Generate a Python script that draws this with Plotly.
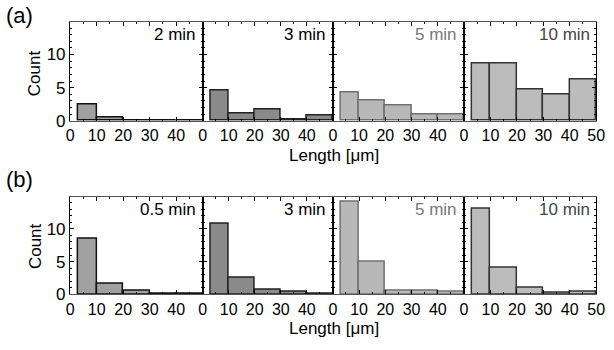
import plotly.graph_objects as go

# ---- data ----
bin_left = [3, 10, 20, 30, 40]
bin_right = [10, 20, 30, 40, 50]

row_a_times = ["2 min", "3 min", "5 min", "10 min"]
row_a_counts = [
    [2.45, 0.44, 0.10, 0.05, 0.05],
    [4.5, 1.08, 1.67, 0.24, 0.74],
    [4.2, 3.05, 2.3, 0.98, 0.98],
    [8.62, 8.62, 4.67, 3.93, 6.2],
]
row_b_times = ["0.5 min", "3 min", "5 min", "10 min"]
row_b_counts = [
    [8.52, 1.57, 0.59, 0.15, 0.05],
    [10.7, 2.6, 0.74, 0.39, 0.1],
    [14.1, 5.03, 0.55, 0.53, 0.44],
    [13.1, 4.04, 1.03, 0.24, 0.44],
]
x_ticks = [0, 10, 20, 30, 40]
x_ticks_last = [0, 10, 20, 30, 40, 50]
y_ticks = [0, 5, 10]

# ---- styles ----
fills = ["#a0a0a0", "#8a8a8a", "#b8b8b8", "#bcbcbc"]
edges = ["#111111", "#222222", "#707070", "#333333"]
label_colors = ["#000000", "#000000", "#777777", "#444444"]

xdom = [(0.110, 0.3306), (0.3306, 0.5472), (0.5472, 0.7655), (0.7655, 0.9853)]
ydom = [(0.645, 0.934), (0.134, 0.421)]
FONT = "Liberation Sans, Arial, sans-serif"

centers = [(l + r) / 2 for l, r in zip(bin_left, bin_right)]
widths = [r - l for l, r in zip(bin_left, bin_right)]

fig = go.Figure()
layout = {}
annotations = []
k = 0
for row, (times, counts) in enumerate([(row_a_times, row_a_counts), (row_b_times, row_b_counts)]):
    for col in range(4):
        k += 1
        xa = "x" if k == 1 else f"x{k}"
        ya = "y" if k == 1 else f"y{k}"
        fig.add_trace(go.Bar(
            x=centers, y=counts[col], width=widths,
            marker=dict(color=fills[col], line=dict(color=edges[col], width=1.5)),
            xaxis=xa, yaxis=ya, showlegend=False,
        ))
        ticks = x_ticks_last if col == 3 else x_ticks
        layout[f"xaxis{k}"] = dict(
            domain=list(xdom[col]), anchor=ya, range=[0, 50],
            tickvals=ticks, ticktext=[str(t) for t in ticks],
            ticks="inside", ticklen=4, tickcolor="#000", mirror="ticks",
            minor=dict(dtick=5, ticks="inside", ticklen=2, tickcolor="#000"),
            showline=True, linecolor="#555", linewidth=1,
            showgrid=False, zeroline=False,
            tickfont=dict(family=FONT, size=16, color="#000"),
        )
        layout[f"yaxis{k}"] = dict(
            domain=list(ydom[row]), anchor=xa, range=[0, 14.85],
            tickvals=y_ticks, showticklabels=(col == 0),
            ticks="inside", ticklen=4, tickcolor="#000", mirror="ticks",
            minor=dict(dtick=1, ticks="inside", ticklen=2, tickcolor="#000"),
            showline=True, linecolor="#000", linewidth=1.3,
            showgrid=False, zeroline=False,
            tickfont=dict(family=FONT, size=17, color="#000"),
        )
        annotations.append(dict(
            text=times[col], xref=f"{xa} domain", yref=f"{ya} domain",
            x=0.965, y=0.99, xanchor="right", yanchor="top", showarrow=False,
            font=dict(family=FONT, size=17, color=label_colors[col]),
        ))

for lbl, yy in [("(a)", 1 - 16 / 350), ("(b)", 1 - 185 / 350)]:
    annotations.append(dict(text=lbl, xref="paper", yref="paper", x=0.0, y=yy,
                            xanchor="left", yanchor="middle", showarrow=False,
                            font=dict(family=FONT, size=22, color="#000")))
for yy in [1 - 75 / 350, 1 - 253 / 350]:
    annotations.append(dict(text="Count", xref="paper", yref="paper", x=32 / 614, y=yy,
                            xanchor="center", yanchor="middle", textangle=-90, showarrow=False,
                            font=dict(family=FONT, size=17, color="#000")))
for yy in [1 - 160 / 350, 1 - 338 / 350]:
    annotations.append(dict(text="Length [μm]", xref="paper", yref="paper", x=337 / 614, y=yy,
                            xanchor="center", yanchor="middle", showarrow=False,
                            font=dict(family=FONT, size=17, color="#000")))

fig.update_layout(
    width=614, height=350, margin=dict(l=0, r=0, t=0, b=0),
    paper_bgcolor="white", plot_bgcolor="white", bargap=0,
    annotations=annotations, **layout,
)
fig.write_html(
    "out.html",
    config={"displayModeBar": False, "responsive": False},
    post_script=(
        "document.documentElement.style.margin='0px';"
        "document.documentElement.style.padding='0px';"
        "document.documentElement.style.overflow='hidden';"
        "document.body.style.margin='0px';"
        "document.body.style.padding='0px';"
        "document.body.style.overflow='hidden';"
        "document.body.style.width='614px';"
        "document.body.style.height='350px';"
    ),
)
